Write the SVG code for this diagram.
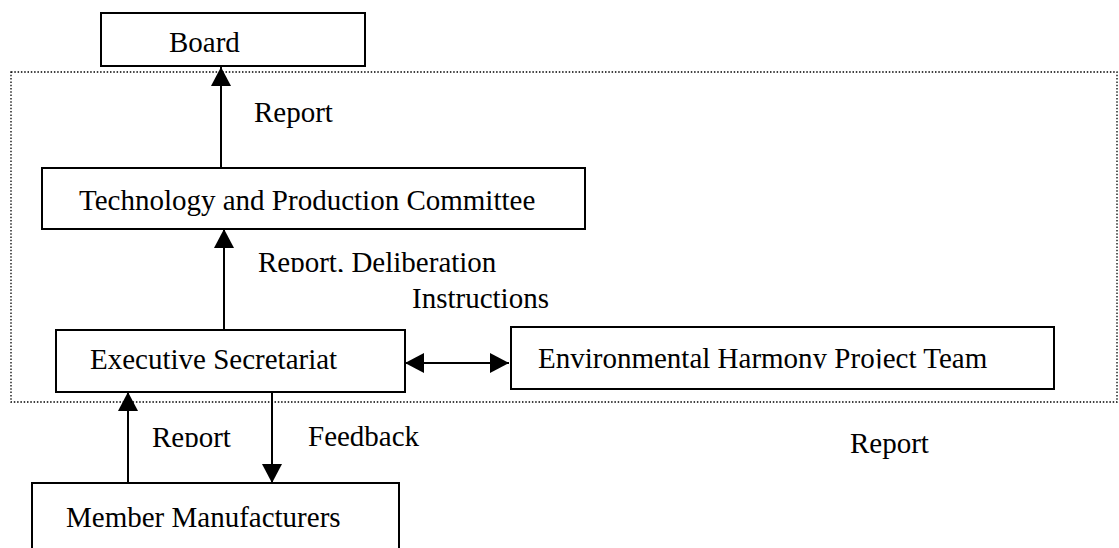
<svg xmlns="http://www.w3.org/2000/svg" width="1119" height="548" viewBox="0 0 1119 548">
<style>
.box{fill:#fff;stroke:#000;stroke-width:2}
.t{font-family:"Liberation Serif","Times New Roman",serif;font-size:29px;fill:#000}
.c{stroke:#000;stroke-width:2;fill:none}
.frame{fill:none;stroke:#000;stroke-width:1.3;stroke-dasharray:1.5 1.8}
</style>
<defs>
<marker id="ah" markerUnits="userSpaceOnUse" markerWidth="20" markerHeight="20" viewBox="0 0 19 20" refX="19" refY="10" orient="auto-start-reverse">
<path d="M0,0 L19,10 L0,20 z" fill="#000"/>
</marker>
<clipPath id="clipRD"><rect x="0" y="0" width="1119" height="272"/></clipPath>
<clipPath id="clipEnv"><rect x="0" y="0" width="1119" height="368.5"/></clipPath>
<clipPath id="clipRep"><rect x="0" y="0" width="1119" height="447"/></clipPath>
</defs>
<rect class="frame" x="11" y="72" width="1106" height="330"/>
<g id="connectors">
<line class="c" x1="221" y1="168" x2="221" y2="67" marker-end="url(#ah)"/>
<line class="c" x1="224" y1="330" x2="224" y2="229" marker-end="url(#ah)"/>
<line class="c" x1="405" y1="363" x2="509" y2="363" marker-start="url(#ah)" marker-end="url(#ah)"/>
<line class="c" x1="272" y1="385" x2="272" y2="483" marker-end="url(#ah)"/>
<line class="c" x1="128" y1="484" x2="128" y2="392" marker-end="url(#ah)"/>
</g>
<g id="labels">
<text class="t" x="254" y="122">Report</text>
<text class="t" x="258" y="272" clip-path="url(#clipRD)">Report, Deliberation</text>
<text class="t" x="412" y="308">Instructions</text>
<text class="t" x="152" y="447" clip-path="url(#clipRep)">Report</text>
<text class="t" x="308" y="446">Feedback</text>
<text class="t" x="850" y="453">Report</text>
</g>
<g id="board">
<rect class="box" x="101" y="13" width="264" height="53"/>
<text class="t" x="169" y="52">Board</text>
</g>
<g id="tpc">
<rect class="box" x="42" y="168" width="543" height="61"/>
<text class="t" x="79" y="210">Technology and Production Committee</text>
</g>
<g id="exec">
<rect class="box" x="56" y="330" width="349" height="62"/>
<text class="t" x="90" y="369">Executive Secretariat</text>
</g>
<g id="env">
<rect class="box" x="511" y="327" width="543" height="62"/>
<text class="t" x="538" y="368" clip-path="url(#clipEnv)">Environmental Harmony Project Team</text>
</g>
<g id="member">
<rect class="box" x="32" y="483" width="367" height="80"/>
<text class="t" x="66" y="527">Member Manufacturers</text>
</g>
</svg>
